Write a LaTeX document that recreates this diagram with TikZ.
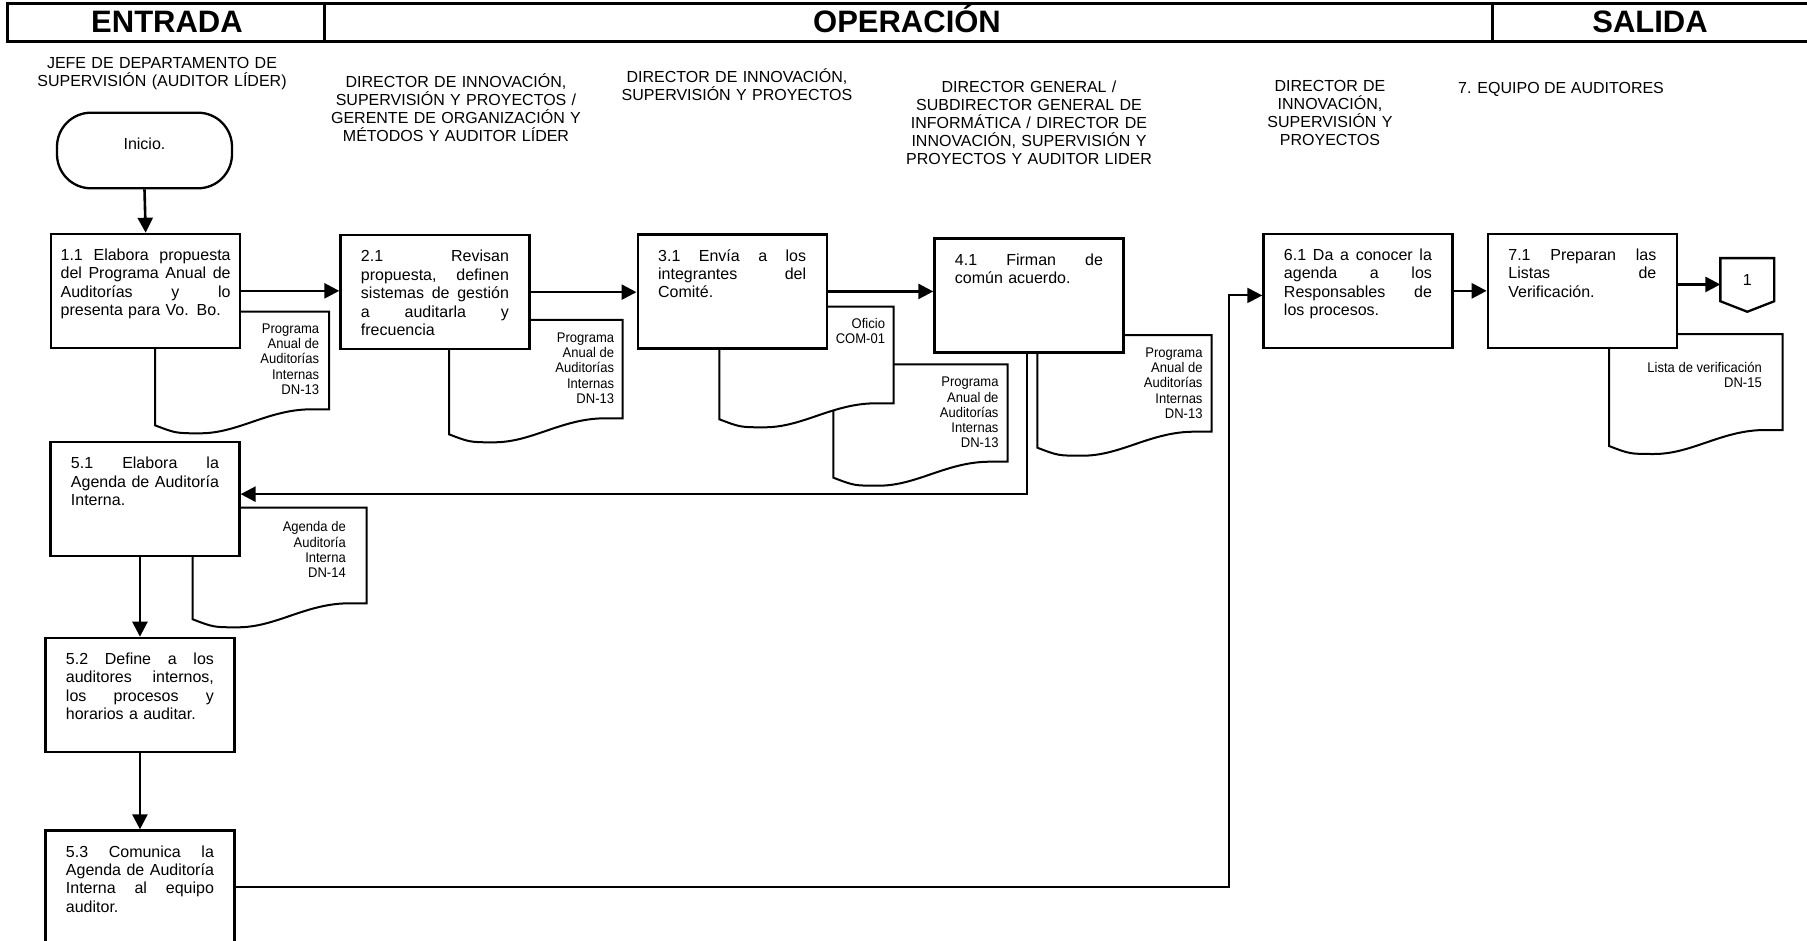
\documentclass[tikz,border=0pt]{standalone}
\usepackage{fontspec}
\setmainfont{Liberation Sans}
\newfontfamily\narrowfont[FakeStretch=0.93]{Liberation Sans}
\usetikzlibrary{arrows.meta,calc}
\newcommand{\boxfont}{\fontsize{16pt}{18.4pt}\selectfont}
\newcommand{\lanefont}{\fontsize{16pt}{18pt}\selectfont}
\newcommand{\docfont}{\narrowfont\fontsize{14pt}{15.3pt}\selectfont}
\newcommand{\hdrfont}{\fontsize{31pt}{36pt}\selectfont\bfseries}
\newcommand{\jl}[1]{\leavevmode\hbox to \hsize{\spaceskip=0pt plus 1fil\xspaceskip=0pt plus 1fil\relax #1}\\}
\newcommand{\docshape}[4]{%
  \draw[docln] (#1,#2) -- (#3,#2) -- (#3,#4) -- ({#3-0.1*(#3-#1)},#4)
    .. controls ({#3-0.35*(#3-#1)},#4) and ({#1+0.48*(#3-#1)},{#4+24}) .. ({#1+0.26*(#3-#1)},{#4+24})
    .. controls ({#1+0.12*(#3-#1)},{#4+24}) .. (#1,{#4+16}) -- cycle;}
\begin{document}
\begin{tikzpicture}[x=1pt,y=-1pt,
  hdr/.style={line width=3pt},
  hfont/.style={font=\hdrfont, inner sep=0pt, anchor=base},
  lane/.style={font=\lanefont, text width=320pt, align=center, inner sep=0pt, anchor=base},
  pbox/.style={draw, line width=2.3pt, fill=white, anchor=north west, inner xsep=20.5pt, inner ysep=0pt,
    text width=148pt, text height=26.7pt, text depth=87.3pt, align=left, font=\boxfont},
  docln/.style={line width=2pt, fill=white},
  doclabel/.style={anchor=base east, text width=140pt, align=flush right, inner sep=0pt, font=\docfont},
  arr/.style={line width=2.6pt, -{Triangle[length=15pt,width=15pt]}},
  arrthin/.style={line width=2pt, -{Triangle[length=15pt,width=15pt]}}
]
\path[use as bounding box] (0,0) rectangle (1807,941);
\fill[white] (0,0) rectangle (1807,941);
\clip (0,0) rectangle (1807,941);

% header
\draw[hdr] (1815,3.3) -- (7,3.3) -- (7,41.7) -- (1815,41.7)
  (324,3.3) -- (324,41.7) (1492,3.3) -- (1492,41.7);
\node[hfont] (hent) at (167,33) {ENTRADA};
\node[hfont] (hop) at (907,33) {OPERACIÓN};
\node[hfont] (hsal) at (1650,33) {SALIDA};

% lane titles
\node[lane] (l1) at (162,68.7) {JEFE DE DEPARTAMENTO DE\\SUPERVISIÓN (AUDITOR LÍDER)};
\node[lane] (l2) at (456,87.5) {DIRECTOR DE INNOVACIÓN,\\SUPERVISIÓN Y PROYECTOS /\\GERENTE DE ORGANIZACIÓN Y\\MÉTODOS Y AUDITOR LÍDER};
\node[lane] (l3) at (737,82.5) {DIRECTOR DE INNOVACIÓN,\\SUPERVISIÓN Y PROYECTOS};
\node[lane] (l4) at (1029,92.4) {DIRECTOR GENERAL /\\SUBDIRECTOR GENERAL DE\\INFORMÁTICA / DIRECTOR DE\\INNOVACIÓN, SUPERVISIÓN Y\\PROYECTOS Y AUDITOR LIDER};
\node[lane] (l5) at (1330,91.4) {DIRECTOR DE\\INNOVACIÓN,\\SUPERVISIÓN Y\\PROYECTOS};
\node[font=\lanefont, inner sep=0pt, anchor=base west] (l6) at (1458,93.4) {7. EQUIPO DE AUDITORES};

% documents
\docshape{155}{311.7}{329}{409.3}
\node[doclabel] (d1) at (319.3,333.3) {Programa\\Anual de\\Auditorías\\Internas\\DN-13};
\docshape{449}{320}{622.6}{418.3}
\node[doclabel] (d2) at (614.3,342.3) {Programa\\Anual de\\Auditorías\\Internas\\DN-13};
\docshape{833.4}{364.3}{1007.5}{461.7}
\node[doclabel] (d3b) at (998.7,386.7) {Programa\\Anual de\\Auditorías\\Internas\\DN-13};
\docshape{719.4}{306.7}{893.5}{403.3}
\node[doclabel] (d3a) at (885.2,328.3) {Oficio\\COM-01};
\docshape{1037.3}{335}{1211.7}{431.7}
\node[doclabel] (d4) at (1202.7,357.3) {Programa\\Anual de\\Auditorías\\Internas\\DN-13};
\docshape{192.7}{507.7}{366.7}{603.3}
\node[doclabel] (d5) at (346,531.7) {Agenda de\\Auditoría\\Interna\\DN-14};
\docshape{1609}{334}{1782.5}{430}
\node[doclabel] (d7) at (1762,372.3) {Lista de verificación\\DN-15};

% start
\node[draw, line width=2.3pt, rounded corners=34pt, minimum width=175pt, minimum height=75.6pt,
  inner sep=0pt, text height=11.5pt, text depth=14pt, font=\boxfont] (ini) at (144.5,150.5) {Inicio.};

% process boxes
\node[pbox, text width=170pt, inner xsep=9.5pt] (b11) at (50,232.7)
  {\jl{1.1 Elabora propuesta}\jl{del Programa Anual de}\jl{Auditorías y lo}presenta para Vo. Bo.};
\node[pbox] (b21) at (339.3,234)
  {\jl{2.1 Revisan}\jl{propuesta, definen}\jl{sistemas de gestión}\jl{a auditarla y}frecuencia};
\node[pbox] (b31) at (636.5,233.3)
  {\jl{3.1 Envía a los}\jl{integrantes del}Comité.};
\node[pbox] (b41) at (933.3,237.3)
  {\jl{4.1 Firman de}común acuerdo.};
\node[pbox] (b51) at (49.3,441)
  {\jl{5.1 Elabora la}\jl{Agenda de Auditoría}Interna.};
\node[pbox] (b52) at (44.3,636.7)
  {\jl{5.2 Define a los}\jl{auditores internos,}\jl{los procesos y}horarios a auditar.};
\node[pbox] (b53) at (44.3,829.3)
  {\jl{5.3 Comunica la}\jl{Agenda de Auditoría}\jl{Interna al equipo}auditor.};
\node[pbox] (b61) at (1262.3,232.7)
  {\jl{6.1 Da a conocer la}\jl{agenda a los}\jl{Responsables de}los procesos.};
\node[pbox] (b71) at (1486.7,232.7)
  {\jl{7.1 Preparan las}\jl{Listas de}Verificación.};

% off-page connector
\node[minimum width=53.5pt, minimum height=42.7pt, inner sep=0pt, font=\boxfont,
  text height=11.5pt, text depth=0pt] (c1) at (1747.3,279.7) {1};
\draw[line width=2.3pt] (c1.north west) -- (c1.north east) -- (c1.south east)
  -- ($(c1.south)+(0,10.5)$) -- (c1.south west) -- cycle;

% connectors
\draw[arr] (ini.south) -- (b11.north);
\draw[arr] (b11.east) -- (b11.east -| b21.west);
\draw[arr] (b21.east) -- (b21.east -| b31.west);
\draw[arr] (b31.east) -- (b31.east -| b41.west);
\coordinate (k51) at ([yshift=5pt]b51.east);
\draw[arr] ([xshift=-2pt]b41.south) |- (k51);
\draw[arr] (b52.north |- b51.south) -- (b52.north);
\draw[arr] (b52.south) -- (b53.north);
\coordinate (k61) at ([yshift=-4.6pt]b61.west);
\draw[arrthin] (b53.east) -| ([xshift=-33.3pt]k61) -- (k61);
\draw[arr] (b61.east) -- (b61.east -| b71.west);
\coordinate (k71) at ([yshift=6.4pt]b71.east);
\draw[arr] (k71) -- (k71 -| c1.west);
\end{tikzpicture}
\end{document}
